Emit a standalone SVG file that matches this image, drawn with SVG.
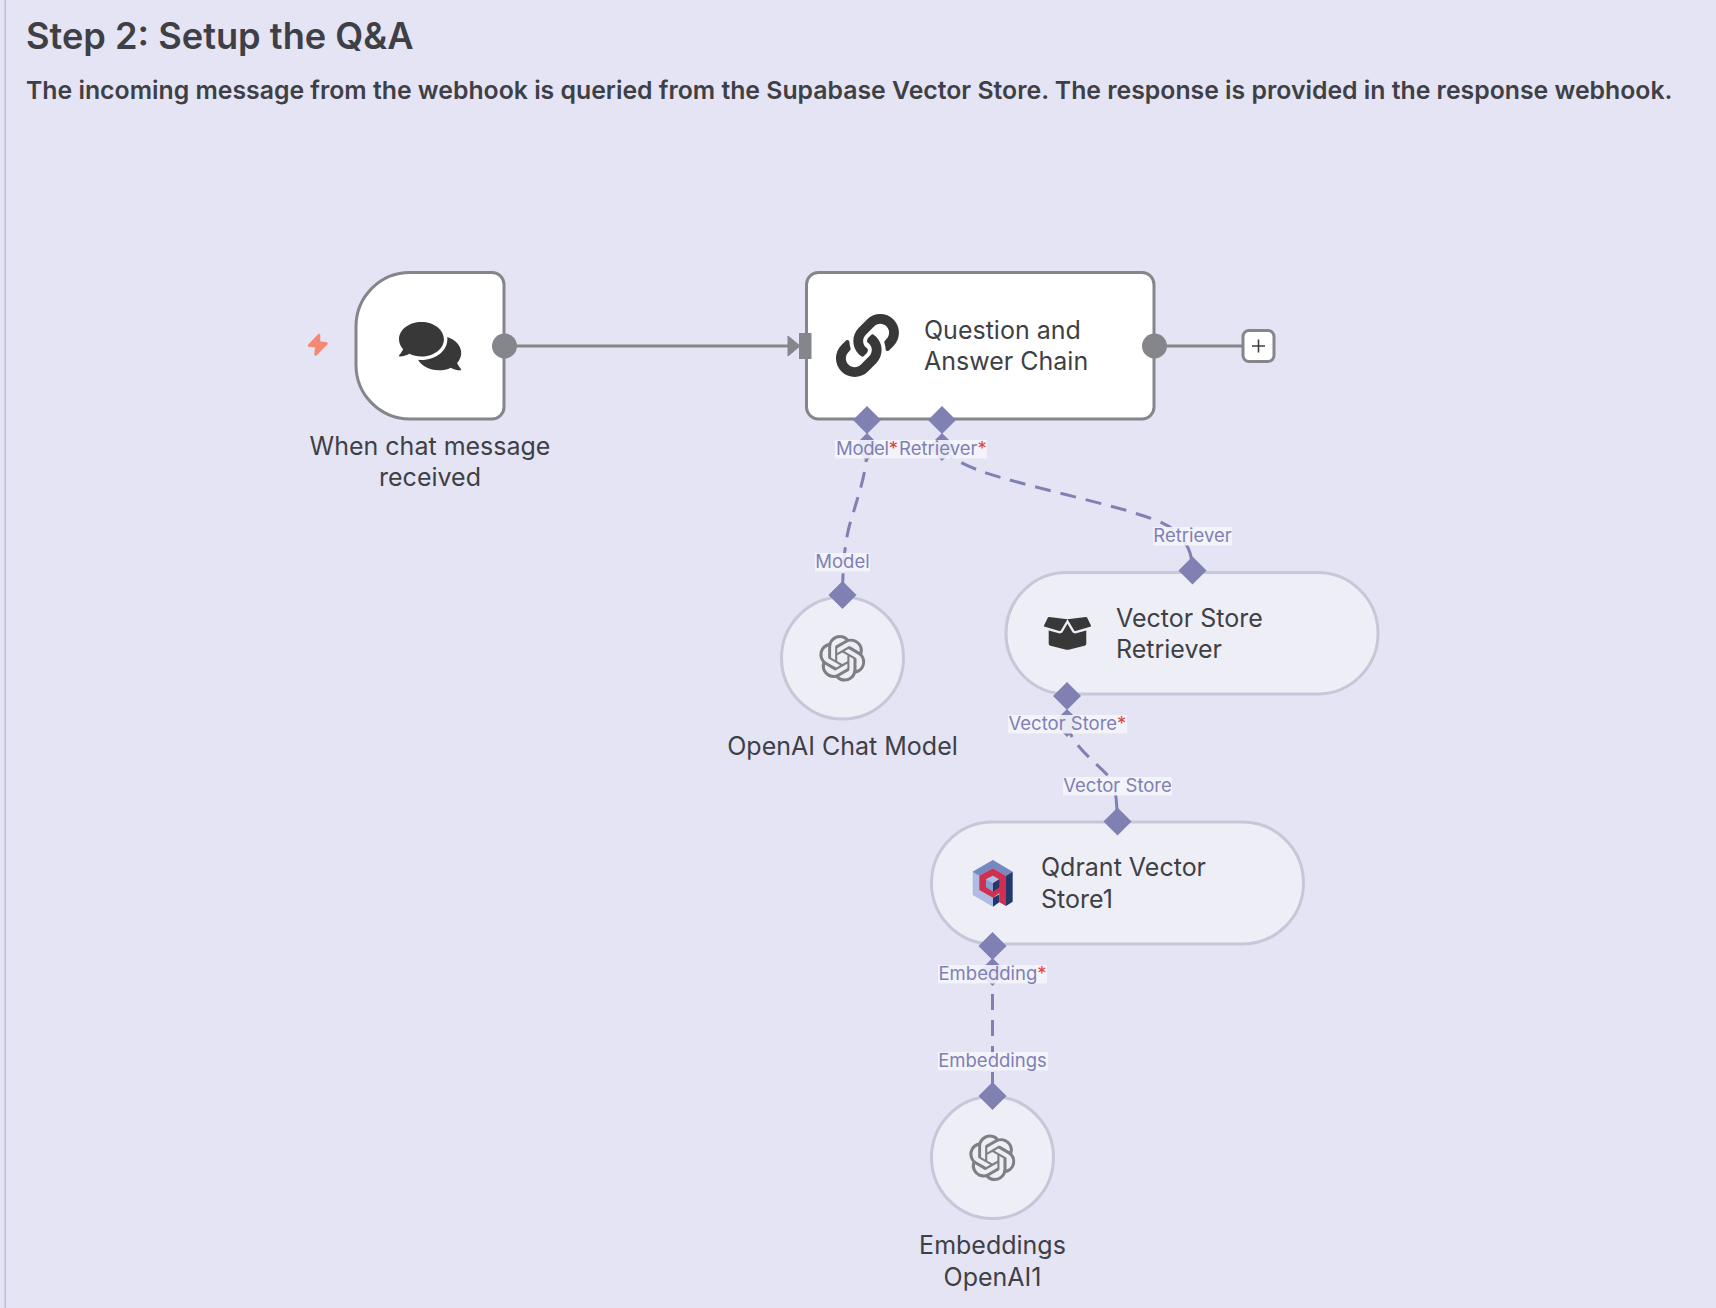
<svg xmlns="http://www.w3.org/2000/svg" width="1716" height="1308" viewBox="0 0 1716 1308">
<style>
text{font-family:Inter,"Liberation Sans",sans-serif;fill:#3f3f46}
.nl{font-size:25px}
.c{text-anchor:middle}
.pl{font-size:18.5px;fill:#7f7fb5}
.st{fill:#e53e3e}
.lbg{fill:#f4f4fb;opacity:.9}
.main{fill:#fff;stroke:#85858c;stroke-width:3}
.sub{fill:#eeeff6;stroke:#c5c8d8;stroke-width:3}
.dash{fill:none;stroke:#8080b3;stroke-width:3;stroke-dasharray:16 10}
.solid{fill:none;stroke:#8080b3;stroke-width:3}
.line{fill:none;stroke:#85858c;stroke-width:3}
.gr{fill:#85858c}
.di{fill:#8080b3}
.ic{fill:#383838}
</style>
<defs>
<path id="diamond" d="M0-14L14 0L0 14L-14 0Z"/>
<path id="oai" fill="#7f7f83" d="M22.2819 9.8211a5.9847 5.9847 0 0 0-.5157-4.9108 6.0462 6.0462 0 0 0-6.5098-2.9A6.0651 6.0651 0 0 0 4.9807 4.1818a5.9847 5.9847 0 0 0-3.9977 2.9 6.0462 6.0462 0 0 0 .7427 7.0966 5.98 5.98 0 0 0 .511 4.9107 6.051 6.051 0 0 0 6.5146 2.9001A5.9847 5.9847 0 0 0 13.2599 24a6.0557 6.0557 0 0 0 5.7718-4.2058 5.9894 5.9894 0 0 0 3.9977-2.9001 6.0557 6.0557 0 0 0-.7475-7.0729zm-9.022 12.6081a4.4755 4.4755 0 0 1-2.8764-1.0408l.1419-.0804 4.7783-2.7582a.7948.7948 0 0 0 .3927-.6813v-6.7369l2.02 1.1686a.071.071 0 0 1 .038.052v5.5826a4.504 4.504 0 0 1-4.4945 4.4944zm-9.6607-4.1254a4.4708 4.4708 0 0 1-.5346-3.0137l.142.0852 4.783 2.7582a.7712.7712 0 0 0 .7806 0l5.8428-3.3685v2.3324a.0804.0804 0 0 1-.0332.0615L9.74 19.9502a4.4992 4.4992 0 0 1-6.1408-1.6464zM2.3408 7.8956a4.485 4.485 0 0 1 2.3655-1.9728V11.6a.7664.7664 0 0 0 .3879.6765l5.8144 3.3543-2.0201 1.1685a.0757.0757 0 0 1-.071 0l-4.8303-2.7865A4.504 4.504 0 0 1 2.3408 7.872zm16.5963 3.8558L13.1038 8.364 15.1192 7.2a.0757.0757 0 0 1 .071 0l4.8303 2.7913a4.4944 4.4944 0 0 1-.6765 8.1042v-5.6772a.79.79 0 0 0-.407-.667zm2.0107-3.0231l-.142-.0852-4.7735-2.7818a.7759.7759 0 0 0-.7854 0L9.409 9.2297V6.8974a.0662.0662 0 0 1 .0284-.0615l4.8303-2.7866a4.4992 4.4992 0 0 1 6.6802 4.66zM8.3065 12.863l-2.02-1.1638a.0804.0804 0 0 1-.038-.0567V6.0742a4.4992 4.4992 0 0 1 7.3757-3.4537l-.142.0805L8.704 5.459a.7948.7948 0 0 0-.3927.6813zm1.0976-2.3654l2.602-1.4998 2.6069 1.4998v2.9994l-2.5974 1.4997-2.6067-1.4997Z"/>
</defs>
<rect width="1716" height="1308" fill="#e4e4f4"/>
<rect x="4.500" y="0" width="1.500" height="1308" fill="#bdbde0"/>
<text x="26" y="48.500" font-size="36.200" font-weight="600">Step 2: Setup the Q&amp;A</text>
<text x="26" y="99" font-size="24.800" font-weight="600">The incoming message from the webhook is queried from the Supabase Vector Store. The response is provided in the response webhook.</text>

<g id="node-chat-trigger">
<path class="main" d="M410 272.500H492a12 12 0 0 1 12 12V407a12 12 0 0 1-12 12H410a54 54 0 0 1-54-54V326.500a54 54 0 0 1 54-54Z"/>
<path d="M319 335L309 345.500L316.500 346.500L315.500 354.500L326.500 343.500L319 342.500Z" fill="#f58873" stroke="#f58873" stroke-width="2.500" stroke-linejoin="round"/>
<path class="ic" transform="translate(399 318.500) scale(.108)" d="M416 192c0-88.400-93.100-160-208-160S0 103.600 0 192c0 34.300 14.100 65.900 38 92-13.400 30.200-35.500 54.200-35.800 54.500-2.200 2.300-2.800 5.700-1.500 8.700S4.800 352 8 352c36.600 0 66.900-12.300 88.700-25 32.200 15.700 70.300 25 111.300 25 114.900 0 208-71.600 208-160zm122 220c23.900-26 38-57.700 38-92 0-66.900-53.500-124.200-129.300-148.100.9 6.600 1.300 13.300 1.300 20.100 0 105.900-107.700 192-240 192-10.800 0-21.300-.8-31.700-1.900C207.800 439.600 281.800 480 368 480c41 0 79.100-9.200 111.300-25 21.800 12.700 52.100 25 88.700 25 3.200 0 6.100-1.900 7.300-4.800 1.300-2.900.7-6.300-1.500-8.700-.3-.3-22.400-24.200-35.800-54.500z"/>
<text class="nl c" x="430" y="455">When chat message</text>
<text class="nl c" x="430" y="486">received</text>
</g>

<g id="node-qa-chain">
<rect class="main" x="806.500" y="272.500" width="347.500" height="146.500" rx="12"/>
<path class="ic" transform="translate(836 314) scale(.123)" d="M326.612 185.391c59.747 59.809 58.927 155.698.36 214.590-.11.12-.24.25-.36.37l-67.200 67.200c-59.270 59.270-155.699 59.262-214.960 0-59.270-59.260-59.270-155.700 0-214.960l37.106-37.106c9.840-9.840 26.786-3.300 27.294 10.606.648 17.722 3.826 35.527 9.690 52.721 1.986 5.822.567 12.262-3.783 16.612l-13.087 13.087c-28.026 28.026-28.905 73.660-1.155 101.960 28.024 28.579 74.086 28.749 102.325.51l67.200-67.190c28.191-28.191 28.073-73.757 0-101.830-3.701-3.694-7.429-6.564-10.341-8.569a16.037 16.037 0 0 1-6.947-12.606c-.396-10.567 3.348-21.456 11.698-29.806l21.054-21.055c5.521-5.521 14.182-6.199 20.584-1.731a152.482 152.482 0 0 1 20.522 17.197zM467.547 44.449c-59.261-59.262-155.690-59.270-214.960 0l-67.200 67.200c-.12.12-.25.25-.36.37-58.566 58.892-59.387 154.781.36 214.590a152.454 152.454 0 0 0 20.521 17.196c6.402 4.468 15.064 3.789 20.584-1.731l21.054-21.055c8.350-8.350 12.094-19.239 11.698-29.806a16.037 16.037 0 0 0-6.947-12.606c-2.912-2.005-6.640-4.875-10.341-8.569-28.073-28.073-28.191-73.639 0-101.830l67.200-67.190c28.239-28.239 74.300-28.069 102.325.51 27.750 28.300 26.872 73.934-1.155 101.960l-13.087 13.087c-4.350 4.350-5.769 10.790-3.783 16.612 5.864 17.194 9.042 34.999 9.690 52.721.509 13.906 17.454 20.446 27.294 10.606l37.106-37.106c59.271-59.259 59.271-155.699.001-214.959z"/>
<text class="nl" x="924" y="339">Question and</text>
<text class="nl" x="924" y="370">Answer Chain</text>
</g>

<g id="node-openai-chat">
<circle class="sub" cx="842.500" cy="658" r="61"/>
<use href="#oai" transform="translate(819 635) scale(1.940)"/>
<text class="nl c" x="842.500" y="755">OpenAI Chat Model</text>
</g>

<g id="node-retriever">
<rect class="sub" x="1006" y="572.500" width="372" height="121.500" rx="60.750"/>
<path class="ic" transform="translate(1044 614.600) scale(.0734)" d="M425.700 256c-16.900 0-32.800-9-41.400-23.400L320 126l-64.200 106.600c-8.700 14.500-24.600 23.500-41.500 23.500-4.500 0-9-.6-13.300-1.900L64 215v178c0 14.700 10 27.500 24.200 31l216.200 54.100c10.200 2.500 20.900 2.500 31 0L551.800 424c14.200-3.600 24.200-16.400 24.200-31V215l-137 39.100c-4.300 1.300-8.800 1.900-13.300 1.900zm212.600-112.200L586.800 41c-3.100-6.200-9.800-9.800-16.700-8.900L320 64l91.700 152.100c3.800 6.300 11.400 9.300 18.500 7.300l197.900-56.500c9.900-2.900 14.700-13.900 10.200-23.100zM53.200 41L1.700 143.800c-4.600 9.200.3 20.200 10.100 23l197.900 56.500c7.100 2 14.700-1 18.500-7.300L320 64 69.800 32.100c-6.900-.8-13.500 2.700-16.600 8.900z"/>
<text class="nl" x="1116" y="627">Vector Store</text>
<text class="nl" x="1116" y="658">Retriever</text>
</g>

<g id="node-qdrant">
<rect class="sub" x="931.500" y="822" width="372" height="122" rx="61"/>
<g transform="translate(960 850) scale(.3333)">
<polygon fill="#b0bde3" points="38,65 99,30 99,170 38,135"/>
<polygon fill="#7589be" points="38,65 99,30 158,65 138,77 99,55 58,77"/>
<polygon fill="#24386c" points="158,65 158,155 138,168 138,77"/>
<polygon fill="#cf3050" points="58,77 99,55 138,77 138,168 118,157 118,130 99,143 58,120"/>
<polygon fill="#8a9bcd" points="78,88 99,77 99,125 78,112"/>
<polygon fill="#b0bde3" points="78,88 99,77 118,88 99,100"/>
<polygon fill="#24386c" points="99,100 118,88 118,112 99,125"/>
<polygon fill="#24386c" points="99,143 118,133 118,157 99,170"/>
</g>
<text class="nl" x="1041" y="876">Qdrant Vector</text>
<text class="nl" x="1041" y="908">Store1</text>
</g>

<g id="node-openai-embeddings">
<circle class="sub" cx="992.500" cy="1157.500" r="61"/>
<use href="#oai" transform="translate(969 1134.500) scale(1.940)"/>
<text class="nl c" x="992.500" y="1254">Embeddings</text>
<text class="nl c" x="992.500" y="1286">OpenAI1</text>
</g>

<g id="connectors">
<circle class="gr" cx="504.500" cy="346" r="12.500"/>
<path class="line" d="M516 346H790"/>
<path class="gr" d="M788 336L800 346L788 356Z" stroke="#85858c" stroke-linejoin="round"/>
<rect class="gr" x="799" y="333" width="12.500" height="26"/>
<circle class="gr" cx="1154.500" cy="346" r="12.500"/>
<path class="line" d="M1166 346H1243"/>
<rect x="1243" y="330.500" width="31" height="31" rx="6" fill="#fff" stroke="#85858c" stroke-width="3"/>
<path d="M1252 346h13M1258.500 339.500v13" stroke="#3f3f46" stroke-width="1.600" fill="none"/>

<path class="dash" d="M867 446C867 470 860 490 855 507C851 522 843 535 842.500 595"/>
<path class="dash" d="M942 446C945 456 965 465 978 470C1000 479 1070 495 1125 510C1150 518 1165 522 1175 531"/>
<path class="solid" d="M1184 541C1190 549 1192.500 558 1192.500 570"/>
<path class="dash" d="M1067 722C1069 745 1100 765 1110 778"/>
<path class="solid" d="M1113 783C1116 790 1117 805 1117.500 822"/>
<path class="dash" d="M992.500 942V1096"/>

<g class="di">
<use href="#diamond" x="867" y="420"/><use href="#diamond" x="867" y="447"/>
<use href="#diamond" x="942" y="420"/><use href="#diamond" x="942" y="447"/>
<use href="#diamond" x="842.500" y="595"/>
<use href="#diamond" x="1192.500" y="570.500"/>
<use href="#diamond" x="1067" y="696"/><use href="#diamond" x="1067" y="723"/>
<use href="#diamond" x="1117.500" y="821.500"/>
<use href="#diamond" x="992.500" y="946"/><use href="#diamond" x="992.500" y="972"/>
<use href="#diamond" x="992.500" y="1096"/>
</g>

<rect class="lbg" x="835" y="440" width="63" height="18.500"/>
<rect class="lbg" x="898" y="440" width="89" height="18.500"/>
<rect class="lbg" x="815" y="553" width="55" height="18.500"/>
<rect class="lbg" x="1153" y="527" width="79" height="18.500"/>
<rect class="lbg" x="1008" y="715" width="119" height="18.500"/>
<rect class="lbg" x="1063" y="777" width="109" height="18.500"/>
<rect class="lbg" x="938" y="965" width="109" height="18.500"/>
<rect class="lbg" x="938" y="1052" width="110" height="18.500"/>
<text class="pl" x="836" y="455" textLength="62">Model<tspan class="st">*</tspan></text>
<text class="pl" x="899" y="455">Retriever<tspan class="st">*</tspan></text>
<text class="pl c" x="842.500" y="567.500">Model</text>
<text class="pl c" x="1192.500" y="542">Retriever</text>
<text class="pl" x="1008.500" y="730">Vector Store<tspan class="st">*</tspan></text>
<text class="pl c" x="1117.500" y="792">Vector Store</text>
<text class="pl" x="938.500" y="979.500">Embedding<tspan class="st">*</tspan></text>
<text class="pl c" x="992.500" y="1066.500">Embeddings</text>
</g>
</svg>
